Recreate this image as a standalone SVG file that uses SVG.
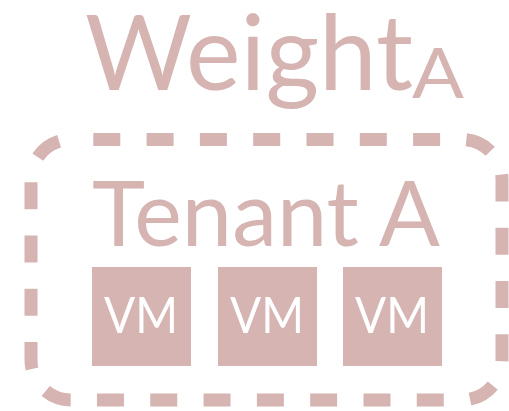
<svg xmlns="http://www.w3.org/2000/svg" width="509" height="411" viewBox="0 0 509 411">
  <style>
    .lbl { font-family: Lato, "Open Sans", "Liberation Sans", sans-serif; fill: #d6b4b2; }
    .vm rect { fill: #d6b4b2; }
    .vm text { font-family: Lato, "Open Sans", "Liberation Sans", sans-serif; fill: #ffffff; font-size: 50px; }
    .frame { fill: none; stroke: #d6b4b2; stroke-width: 13; stroke-dasharray: 27 26.3; }
  </style>
  <rect width="509" height="411" fill="#ffffff"/>

  <!-- title: Weight with subscript A -->
  <g id="title">
    <text class="lbl" x="85" y="90" font-size="104" textLength="328" lengthAdjust="spacingAndGlyphs">Weight</text>
    <text class="lbl" x="412" y="98" font-size="69" textLength="52" lengthAdjust="spacingAndGlyphs">A</text>
  </g>

  <!-- tenant boundary -->
  <g id="tenant">
    <rect class="frame" x="31" y="139.5" width="471" height="260.5" rx="40" ry="40" stroke-dashoffset="31"/>
    <text class="lbl" x="92" y="246" font-size="92" textLength="348" lengthAdjust="spacingAndGlyphs">Tenant A</text>
  </g>

  <g id="vm1" class="vm">
    <rect x="92" y="267" width="99" height="99"/>
    <text x="104" y="333" textLength="74" lengthAdjust="spacingAndGlyphs">VM</text>
  </g>
  <g id="vm2" class="vm">
    <rect x="218" y="267" width="99" height="99"/>
    <text x="230" y="333" textLength="74" lengthAdjust="spacingAndGlyphs">VM</text>
  </g>
  <g id="vm3" class="vm">
    <rect x="343" y="267" width="99" height="99"/>
    <text x="355" y="333" textLength="74" lengthAdjust="spacingAndGlyphs">VM</text>
  </g>

  <g id="connectors"/>
</svg>
